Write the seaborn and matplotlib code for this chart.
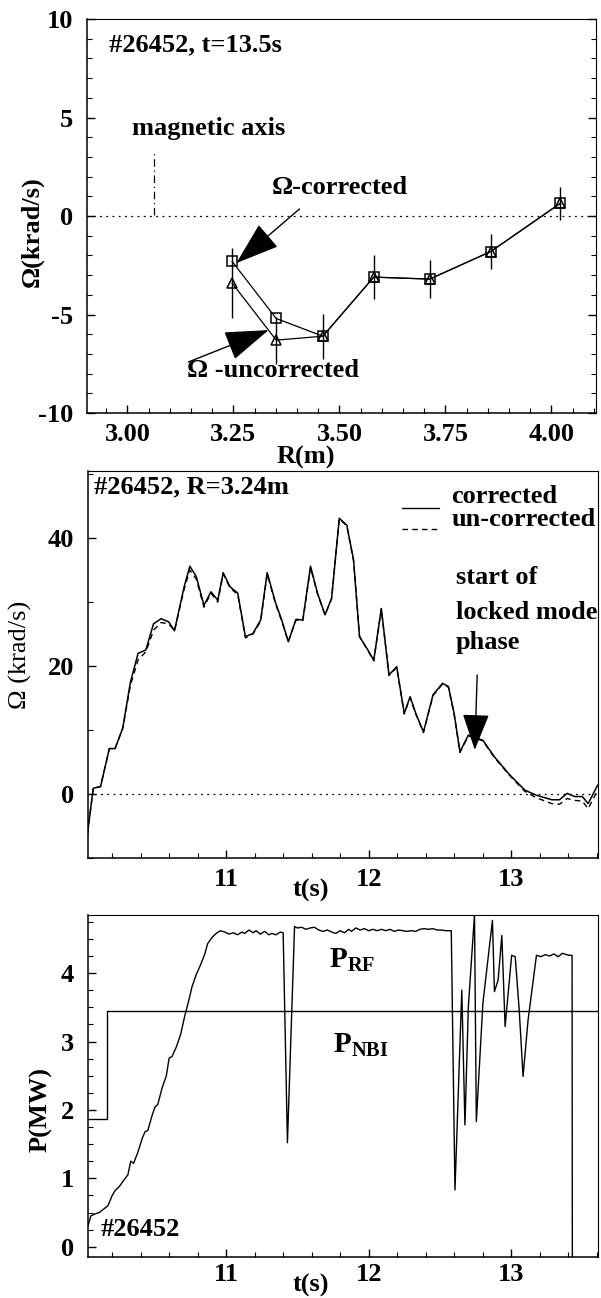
import matplotlib
matplotlib.use("Agg")
import matplotlib.pyplot as plt
from matplotlib.ticker import MultipleLocator
import seaborn as sns
import pandas as pd

# ---------------- data ----------------
# Radial rotation profile at t = 13.5 s
R_pts = [3.247, 3.351, 3.461, 3.581, 3.713, 3.857, 4.021]
omega_corr = [-2.3, -5.2, -6.1, -3.1, -3.2, -1.8, 0.65]
omega_uncorr = [-3.4, -6.3, -6.1, -3.1, -3.2, -1.8, 0.65]
omega_err = [1.8, 1.2, 1.15, 1.1, 0.95, 0.88, 0.85]
R_mag_axis = 3.064

# Rotation time trace at R = 3.24 m
t_rot = [10.027, 10.067, 10.118, 10.18, 10.22, 10.274, 10.328, 10.382, 10.436,
         10.49, 10.543, 10.597, 10.637, 10.705, 10.745, 10.79, 10.844, 10.893,
         10.941, 10.979, 11.027, 11.081, 11.135, 11.188, 11.242, 11.288, 11.345,
         11.39, 11.436, 11.49, 11.538, 11.592, 11.641, 11.694, 11.74, 11.794,
         11.847, 11.894, 11.936, 11.995, 12.036, 12.089, 12.143, 12.197, 12.25,
         12.291, 12.331, 12.385, 12.452, 12.519, 12.56, 12.6, 12.641, 12.7,
         12.802, 12.883, 12.99, 13.097, 13.178, 13.286, 13.34, 13.393, 13.447,
         13.5, 13.541, 13.608]
omega_t_corr = [-6.1, 0.9, 1.15, 7.1, 7.1, 10.3, 17.5, 22.0, 22.5,
                26.6, 27.4, 26.9, 25.5, 32.4, 35.6, 34.0, 29.5, 31.6,
                30.3, 34.6, 32.4, 31.4, 24.6, 25.1, 27.2, 34.6, 30.0,
                27.2, 23.8, 27.3, 27.2, 35.6, 31.4, 28.0, 30.6, 43.1,
                42.0, 36.6, 24.6, 22.5, 20.9, 29.0, 18.6, 19.9, 12.6,
                15.2, 12.6, 9.7, 15.5, 17.3, 16.8, 12.6, 6.6, 9.2,
                8.4, 5.8, 3.0, 0.6, -0.2, -0.9, -0.9, 0.1, -0.4,
                -0.4, -1.5, 1.4]
omega_t_uncorr = [-6.1, 0.9, 1.15, 7.1, 7.1, 10.3, 17.0, 21.0, 22.2,
                  25.6, 26.8, 26.6, 25.5, 32.0, 35.0, 33.6, 29.2, 31.4,
                  30.0, 34.4, 32.2, 31.2, 24.4, 25.0, 27.0, 34.4, 29.8,
                  27.0, 23.8, 27.2, 27.1, 35.4, 31.3, 28.0, 30.5, 43.0,
                  41.9, 36.5, 24.6, 22.4, 20.8, 28.9, 18.5, 19.8, 12.5,
                  15.1, 12.5, 9.6, 15.4, 17.2, 16.7, 12.5, 6.5, 9.1,
                  8.3, 5.7, 2.9, 0.4, -0.6, -1.5, -1.6, -0.7, -1.0,
                  -1.1, -2.3, 0.6]

# Heating power traces
t_rf = [10.03, 10.05, 10.08, 10.11, 10.14, 10.17, 10.20, 10.22, 10.25, 10.28,
        10.31, 10.33, 10.35, 10.38, 10.41, 10.43, 10.45, 10.48, 10.50, 10.52,
        10.55, 10.58, 10.60, 10.62, 10.65, 10.68, 10.71, 10.74, 10.76, 10.79,
        10.82, 10.85, 10.87, 10.90, 10.93, 10.96, 10.99, 11.02, 11.05, 11.08,
        11.11, 11.13, 11.16, 11.19, 11.21, 11.24, 11.27, 11.30, 11.32, 11.35,
        11.38, 11.40, 11.43, 11.48, 11.50, 11.53, 11.56, 11.59, 11.62, 11.65,
        11.68, 11.71, 11.74, 11.77, 11.80, 11.83, 11.86, 11.88, 11.91, 11.94,
        11.97, 12.00, 12.03, 12.06, 12.09, 12.12, 12.15, 12.18, 12.21, 12.24,
        12.27, 12.30, 12.33, 12.36, 12.39, 12.42, 12.45, 12.48, 12.51, 12.54,
        12.58, 12.606, 12.654, 12.676, 12.70, 12.743, 12.756, 12.802, 12.869,
        12.883, 12.909, 12.935, 12.958, 13.004, 13.029, 13.057, 13.084, 13.119,
        13.178, 13.21, 13.24, 13.27, 13.30, 13.33, 13.36, 13.39, 13.41, 13.428,
        13.43]
p_rf = [0.30, 0.45, 0.48, 0.50, 0.55, 0.60, 0.75, 0.82, 0.88, 0.97,
        1.05, 1.25, 1.22, 1.38, 1.58, 1.68, 1.70, 1.92, 2.04, 2.08,
        2.32, 2.50, 2.76, 2.78, 2.92, 3.10, 3.38, 3.62, 3.80, 3.98,
        4.12, 4.28, 4.43, 4.52, 4.58, 4.62, 4.60, 4.57, 4.59, 4.56,
        4.60, 4.58, 4.63, 4.59, 4.62, 4.57, 4.61, 4.56, 4.58, 4.56,
        4.60, 4.59, 1.52, 4.68, 4.66, 4.67, 4.64, 4.66, 4.67, 4.63,
        4.61, 4.63, 4.60, 4.58, 4.62, 4.59, 4.64, 4.61, 4.66, 4.63,
        4.65, 4.62, 4.64, 4.62, 4.64, 4.62, 4.64, 4.61, 4.63, 4.62,
        4.61, 4.62, 4.61, 4.64, 4.65, 4.64, 4.65, 4.63, 4.63, 4.62,
        4.62, 0.83, 3.75, 1.78, 3.51, 4.85, 1.83, 3.56, 4.77,
        3.73, 3.90, 4.55, 3.22, 4.26, 4.24, 3.46, 2.49, 3.31,
        4.26, 4.24, 4.27, 4.25, 4.28, 4.24, 4.29, 4.27, 4.26, 4.26,
        -0.3]
t_nbi = [10.03, 10.16, 10.16, 13.61]
p_nbi = [1.87, 1.87, 3.45, 3.45]

# ---------------- style ----------------
sns.set_theme(style="ticks")
INK = "black"
plt.rcParams.update({
    "font.family": ["Liberation Serif", "DejaVu Serif"],
    "font.weight": "bold",
    "axes.linewidth": 1.1,
    "axes.unicode_minus": False,
    "text.color": INK,
    "axes.labelcolor": INK,
    "axes.edgecolor": INK,
    "xtick.color": INK,
    "ytick.color": INK,
    "mathtext.fontset": "custom",
    "mathtext.rm": "Liberation Serif",
    "mathtext.bf": "Liberation Serif:bold",
    "mathtext.it": "Liberation Serif:italic",
})

FS = 19

fig = plt.figure(figsize=(6.01, 12.98), dpi=100)
ax1 = fig.add_axes([0.1448, 0.6818, 0.8469, 0.3035])
ax2 = fig.add_axes([0.1464, 0.3390, 0.8486, 0.2982])
ax3 = fig.add_axes([0.1464, 0.0316, 0.8486, 0.2635])


def style_axis(ax, xpad=7, right_ticks=False):
    ax.tick_params(which="both", direction="in", colors=INK, top=False, right=right_ticks)
    ax.tick_params(which="major", length=6, width=1.0, labelsize=FS)
    ax.tick_params(which="minor", length=3.5, width=0.8)
    ax.tick_params(axis="y", pad=10)
    ax.tick_params(axis="x", pad=xpad)
    for lbl in ax.get_xticklabels() + ax.get_yticklabels():
        lbl.set_fontweight("bold")
    ax.spines["top"].set_linewidth(0.8)
    ax.spines["right"].set_linewidth(0.8)


# ---------------- panel 1: radial profile ----------------
prof = pd.DataFrame({"R": R_pts, "corr": omega_corr, "uncorr": omega_uncorr})
ax1.axhline(0, color=INK, lw=0.9, ls=(0, (1.5, 3.5)))
ax1.plot([R_mag_axis, R_mag_axis], [0.05, 3.3], color=INK, lw=0.9, ls=(0, (6, 3, 1, 3)))
ax1.errorbar(R_pts, omega_uncorr, yerr=omega_err, fmt="none", ecolor=INK, elinewidth=1.0, capsize=0)
sns.lineplot(data=prof, x="R", y="corr", ax=ax1, color=INK, lw=0.9, marker="s",
             markersize=6.5, markerfacecolor="none", markeredgecolor=INK, markeredgewidth=1.1,
             estimator=None, sort=False)
sns.lineplot(data=prof, x="R", y="uncorr", ax=ax1, color=INK, lw=0.9, marker="^",
             markersize=7, markerfacecolor="none", markeredgecolor=INK, markeredgewidth=1.1,
             estimator=None, sort=False)
ax1.set_xlim(2.905, 4.105)
ax1.set_ylim(-10, 10)
ax1.xaxis.set_minor_locator(MultipleLocator(0.05))
ax1.yaxis.set_major_locator(MultipleLocator(5))
ax1.yaxis.set_minor_locator(MultipleLocator(1))
ax1.set_xticks([3.00, 3.25, 3.50, 3.75, 4.00])
ax1.set_xticklabels(["3.00", "3.25", "3.50", "3.75", "4.00"])
ax1.set_xlabel("R(m)", fontsize=FS, fontweight="bold")
ax1.xaxis.set_label_coords(0.43, -0.084)
ax1.set_ylabel("Ω(krad/s)", fontsize=FS, fontweight="bold")
ax1.yaxis.set_label_coords(-0.085, 0.46)
style_axis(ax1, right_ticks=True)

ax1.text(0.043, 0.935, "#26452, t=13.5s", transform=ax1.transAxes, fontsize=FS,
         fontweight="bold", va="center", ha="left")
ax1.text(3.01, 4.47, "magnetic axis", fontsize=FS, fontweight="bold", va="center", ha="left")
ax1.text(3.34, 1.45, "Ω-corrected", fontsize=FS, fontweight="bold", va="center", ha="left")
ax1.text(3.14, -7.85, "Ω -uncorrected", fontsize=FS, fontweight="bold", va="center", ha="left")

arrow_kw = dict(arrowstyle="-|>,head_length=2.8,head_width=0.95", color=INK, lw=1.0,
                mutation_scale=10, shrinkA=0, shrinkB=0)
ax1.annotate("", xy=(3.257, -2.39), xytext=(3.406, 0.36), arrowprops=arrow_kw)
ax1.annotate("", xy=(3.333, -5.79), xytext=(3.144, -7.41), arrowprops=arrow_kw)

# ---------------- panel 2: rotation time trace ----------------
trace = pd.DataFrame({"t": t_rot, "corr": omega_t_corr, "uncorr": omega_t_uncorr})
ax2.axhline(0, color=INK, lw=0.9, ls=(0, (1.5, 3.5)))
sns.lineplot(data=trace, x="t", y="uncorr", ax=ax2, color=INK, lw=1.0, ls=(0, (4, 3)),
             estimator=None, sort=False)
sns.lineplot(data=trace, x="t", y="corr", ax=ax2, color=INK, lw=1.1,
             estimator=None, sort=False)
ax2.set_xlim(10.03, 13.61)
ax2.set_ylim(-10, 50.5)
ax2.xaxis.set_major_locator(MultipleLocator(1))
ax2.xaxis.set_minor_locator(MultipleLocator(0.2))
ax2.yaxis.set_major_locator(MultipleLocator(20))
ax2.yaxis.set_minor_locator(MultipleLocator(10))
ax2.set_xlabel("t(s)", fontsize=FS, fontweight="bold")
ax2.xaxis.set_label_coords(0.437, -0.054)
ax2.set_ylabel("Ω (krad/s)", fontsize=FS, fontweight="normal")
ax2.yaxis.set_label_coords(-0.11, 0.525)
style_axis(ax2)

ax2.text(0.012, 0.96, "#26452, R=3.24m", transform=ax2.transAxes, fontsize=FS,
         fontweight="bold", va="center", ha="left")
ax2.plot([0.616, 0.688], [0.905, 0.905], transform=ax2.transAxes, color=INK, lw=1.0)
ax2.plot([0.616, 0.688], [0.85, 0.85], transform=ax2.transAxes, color=INK, lw=1.0,
         ls=(0, (4, 3)))
ax2.text(0.713, 0.935, "corrected", transform=ax2.transAxes, fontsize=FS,
         fontweight="bold", va="center", ha="left")
ax2.text(0.713, 0.875, "un-corrected", transform=ax2.transAxes, fontsize=FS,
         fontweight="bold", va="center", ha="left")
ax2.text(12.61, 33.9, "start of", fontsize=FS, fontweight="bold", va="center", ha="left")
ax2.text(12.61, 28.4, "locked mode", fontsize=FS, fontweight="bold", va="center", ha="left")
ax2.text(12.61, 23.75, "phase", fontsize=FS, fontweight="bold", va="center", ha="left")
arrow_kw2 = dict(arrowstyle="-|>,head_length=2.3,head_width=0.85", color=INK, lw=1.0,
                 mutation_scale=10, shrinkA=0, shrinkB=0)
ax2.annotate("", xy=(12.745, 6.9), xytext=(12.762, 18.6), arrowprops=arrow_kw2)

# ---------------- panel 3: heating power ----------------
power_rf = pd.DataFrame({"t": t_rf, "P": p_rf})
power_nbi = pd.DataFrame({"t": t_nbi, "P": p_nbi})
sns.lineplot(data=power_nbi, x="t", y="P", ax=ax3, color=INK, lw=1.0,
             estimator=None, sort=False)
sns.lineplot(data=power_rf, x="t", y="P", ax=ax3, color=INK, lw=1.0,
             estimator=None, sort=False)
ax3.set_xlim(10.03, 13.61)
ax3.set_ylim(-0.15, 4.85)
ax3.xaxis.set_major_locator(MultipleLocator(1))
ax3.xaxis.set_minor_locator(MultipleLocator(0.2))
ax3.yaxis.set_major_locator(MultipleLocator(1))
ax3.yaxis.set_minor_locator(MultipleLocator(0.25))
ax3.set_xlabel("t(s)", fontsize=FS, fontweight="bold")
ax3.xaxis.set_label_coords(0.437, -0.05)
ax3.set_ylabel("P(MW)", fontsize=FS, fontweight="bold")
ax3.yaxis.set_label_coords(-0.07, 0.43)
style_axis(ax3, xpad=4)

ax3.text(11.72, 4.19, r"P$_{\mathbf{RF}}$", fontsize=FS + 2, fontweight="bold",
         va="center", ha="left")
ax3.text(11.75, 2.95, r"P$_{\mathbf{NBI}}$", fontsize=FS + 2, fontweight="bold",
         va="center", ha="left")
ax3.text(10.12, 0.25, "#26452", fontsize=FS, fontweight="bold", va="center", ha="left")

fig.savefig("out.png", dpi=100)
